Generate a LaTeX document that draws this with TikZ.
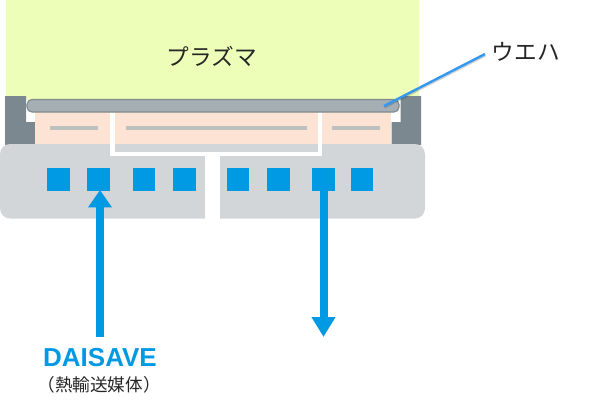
\documentclass[tikz,border=0pt]{standalone}
\usepackage{fontspec}
\usetikzlibrary{arrows.meta}
\setmainfont{Liberation Sans}
\newfontfamily\cjk{Noto Sans CJK JP}
\definecolor{plasma}{HTML}{EDFEB9}
\definecolor{basegray}{HTML}{D3D6D9}
\definecolor{peach}{HTML}{FDE3D3}
\definecolor{blockgray}{HTML}{7C8890}
\definecolor{wafer}{HTML}{A6AEB5}
\definecolor{waferedge}{HTML}{7F8C8D}
\definecolor{heater}{HTML}{BFC0C0}
\definecolor{coolant}{HTML}{009AE4}
\definecolor{leader}{HTML}{3399F0}
\definecolor{ink}{HTML}{262626}
\tikzset{
  px/.style={x=0.75pt,y=-0.75pt},
  sq/.style={fill=coolant,draw=none,minimum size=17pt,inner sep=0pt,outer sep=0pt,rectangle},
  label/.style={text=ink,inner sep=0pt,font=\cjk\fontsize{17pt}{20pt}\selectfont},
  flow/.style={draw=coolant,line width=6pt},
}
\begin{document}
\begin{tikzpicture}[px]
\useasboundingbox (0,0) rectangle (597,408);
% plasma
\fill[plasma] (6,0) rectangle (419,100);
% side blocks
\fill[blockgray] (5,96) -| (26,122) -| (35,145) -| cycle;
\fill[blockgray] (421,96) -| (400.5,122) -| (391.5,145) -| cycle;
% base
\fill[basegray,rounded corners=10*0.75pt] (0,144) rectangle (425,218.5);
% peach
\fill[peach] (35,112) rectangle (391,144);
% white channels
\fill[white] (110,112) rectangle (115,156);
\fill[white] (317.5,112) rectangle (322,156);
\fill[white] (110,152) rectangle (322,156);
\fill[white] (205,155) rectangle (220,219);
% heaters
\fill[heater] (50,125.5) rectangle (98,129.5);
\fill[heater] (126,125.5) rectangle (307,129.5);
\fill[heater] (332,125.5) rectangle (380,129.5);
% wafer
\draw[fill=wafer,draw=waferedge,line width=0.9pt,rounded corners=5*0.75pt] (27,99.5) rectangle (399,112);
% squares
\node[sq] (s1) at (58.5,179.5) {};
\node[sq] (s2) at (98.5,179.5) {};
\node[sq] (s3) at (144,179.5) {};
\node[sq] (s4) at (184.5,179.5) {};
\node[sq] (s5) at (238,179.5) {};
\node[sq] (s6) at (278.5,179.5) {};
\node[sq] (s7) at (323.5,179.5) {};
\node[sq] (s8) at (362,179.5) {};
% arrows
\coordinate (inS) at (100,337);
\coordinate (inT) at (100,190);
\coordinate (outE) at (323.5,337);
\draw[flow,-{Triangle[length=13pt,width=17pt,sep=0pt]}] (inS) -- (inT);
\draw[flow,-{Triangle[length=15pt,width=17pt,sep=0pt]}] (s7.center) -- (outE);
% labels
\node[label] (pl) at (212,56) {プラズマ};
\node[label,anchor=west] (wf) at (491.5,52) {ウエハ};
\coordinate (wfp) at (384,106);
\coordinate (wfl) at (485,54);
\draw[black,opacity=0.18,line width=1.5pt] (384.5,107.5) -- (485.5,55.5);
\draw[leader,line width=1.8pt] (wfp) -- (wfl);
\node[inner sep=0pt,text=coolant,font=\fontsize{19.5pt}{24pt}\selectfont\bfseries] (dai) at (100,358) {DAISAVE};
\node[label,font=\cjk\fontsize{13.2pt}{15pt}\selectfont] (sub) at (99,385) {（熱輸送媒体）};
\end{tikzpicture}
\end{document}
